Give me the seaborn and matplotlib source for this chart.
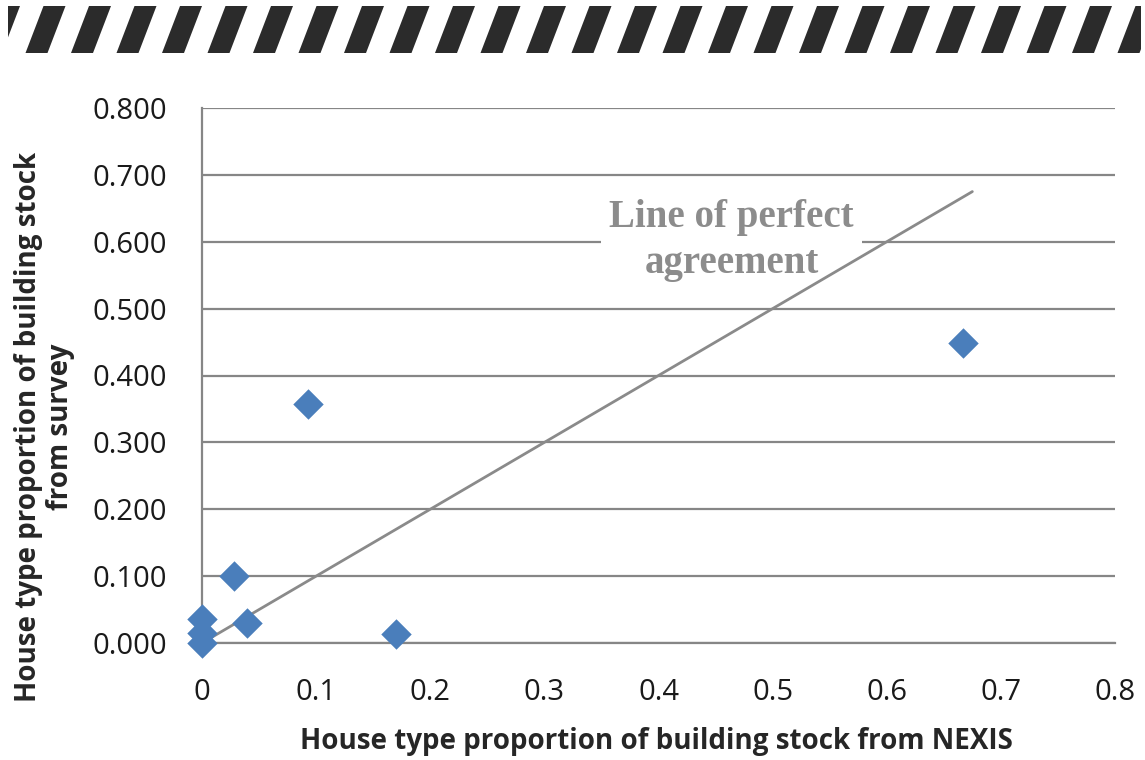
import matplotlib.pyplot as plt
import seaborn as sns
import pandas as pd
from matplotlib.patches import Polygon

# values
nexis = [0.000, 0.000, 0.000, 0.028, 0.039, 0.093, 0.170, 0.667]
survey = [0.000, 0.015, 0.036, 0.100, 0.030, 0.357, 0.014, 0.448]
perfect_line = [0.0, 0.675]
x_ticks = [0, 0.1, 0.2, 0.3, 0.4, 0.5, 0.6, 0.7, 0.8]
y_ticks = [0.0, 0.1, 0.2, 0.3, 0.4, 0.5, 0.6, 0.7, 0.8]

df = pd.DataFrame({"nexis": nexis, "survey": survey})

sns.set_style("white")
plt.rcParams['font.family'] = ['Open Sans', 'DejaVu Sans']

fig = plt.figure(figsize=(11.45, 7.6), dpi=100)
W, H = 1145, 760

# striped band across the top
band = fig.add_axes([0, 0, 1, 1], zorder=-1)
band.set_xlim(0, W)
band.set_ylim(H, 0)
band.axis("off")
top, bot, period, width, lean = 6, 53, 45.5, 22, 18
x0 = -20
while x0 < W:
    poly = [(x0, bot), (x0 + width, bot), (x0 + width + lean, top), (x0 + lean, top)]
    band.add_patch(Polygon(poly, closed=True, color="#2b2b2b", lw=0))
    x0 += period
band.add_patch(Polygon([(0, 0), (8, 0), (8, 60), (0, 60)], color="white", lw=0))
band.add_patch(Polygon([(1141, 0), (W, 0), (W, 60), (1141, 60)], color="white", lw=0))

ax = fig.add_axes([202 / W, 1 - 643 / H, (1115 - 202) / W, (643 - 108) / H])
ax.set_xlim(0, 0.8)
ax.set_ylim(0, 0.8)
ax.set_xticks(x_ticks)
ax.set_yticks(y_ticks)
ax.set_xticklabels(["0", "0.1", "0.2", "0.3", "0.4", "0.5", "0.6", "0.7", "0.8"])
ax.set_yticklabels([f"{v:.3f}" for v in y_ticks])
ax.grid(axis="y", color="#868686", lw=1.6, zorder=0)
ax.set_axisbelow(True)
for s in ["top", "right"]:
    ax.spines[s].set_visible(False)
for s in ["left", "bottom"]:
    ax.spines[s].set_color("#868686")
    ax.spines[s].set_linewidth(1.6)
ax.tick_params(axis="both", colors="#868686", length=7, width=1.6, labelsize=21,
               labelcolor="#1a1a1a")
ax.tick_params(axis="x", pad=18)
ax.tick_params(axis="y", pad=18)

ax.text(0.464, 0.602, "Line of perfect\nagreement", ha="center", va="center",
        family="Liberation Serif", fontsize=28, fontweight="bold", color="#8c8c8c",
        linespacing=1.3, zorder=1,
        bbox=dict(facecolor="white", edgecolor="none", pad=6))

ax.plot(perfect_line, perfect_line, color="#8a8a8a", lw=2, zorder=3)

sns.scatterplot(data=df, x="nexis", y="survey", marker="D", s=240, color="#4a7ebb",
                edgecolor="#4a7ebb", linewidth=0, ax=ax, zorder=4, clip_on=False)

ax.set_xlabel("House type proportion of building stock from NEXIS", fontsize=20,
              fontweight="bold")
ax.set_ylabel("House type proportion of building stock\nfrom survey", fontsize=20,
              fontweight="bold", linespacing=1.15)
ax.xaxis.set_label_coords(0.498, -0.157)
ax.yaxis.set_label_coords(-0.139, 0.404)

fig.savefig("out.png", dpi=100)
